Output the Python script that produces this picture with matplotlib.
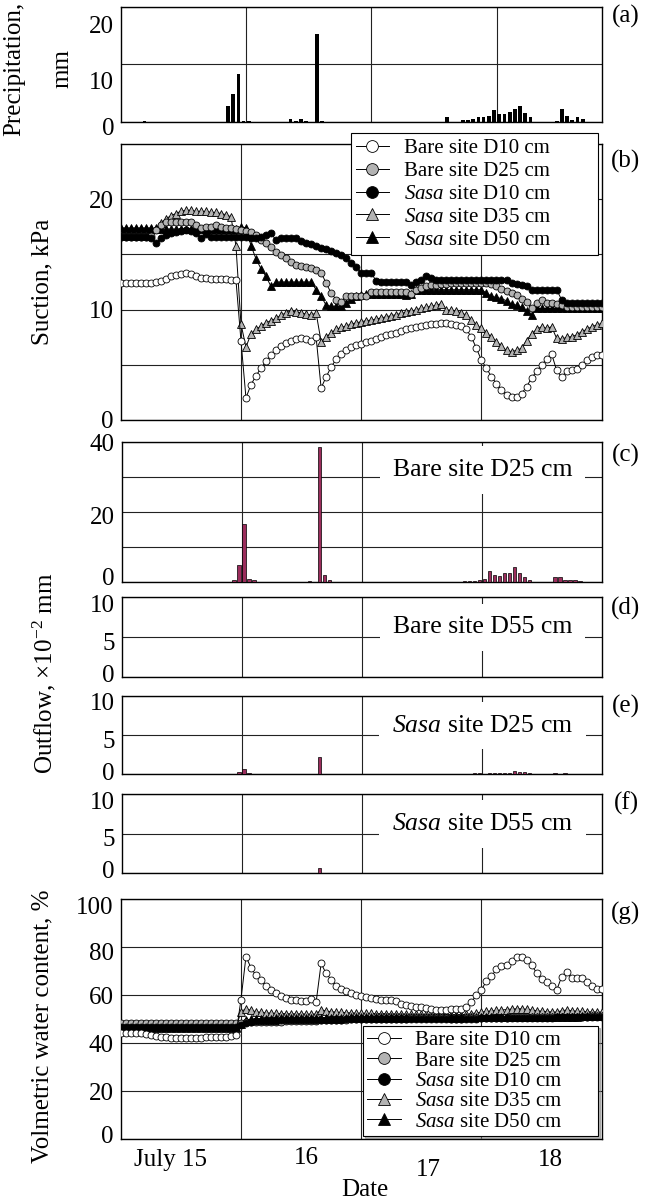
import numpy as np
import matplotlib
matplotlib.use('Agg')
import matplotlib.pyplot as plt
from matplotlib.transforms import ScaledTranslation

plt.rcParams['font.family'] = ['Liberation Serif', 'DejaVu Serif']
plt.rcParams['mathtext.fontset'] = 'custom'
plt.rcParams['mathtext.rm'] = 'Liberation Serif'
plt.rcParams['mathtext.it'] = 'Liberation Serif:italic'
plt.rcParams['mathtext.bf'] = 'Liberation Serif:bold'

# ---------------- data ----------------
# precipitation (hour of bar centre from July 15 00:00, mm)
precip_hours = [4.5, 20.5, 21.5, 22.5, 23.5, 24.5, 32.5, 33.5, 34.5, 35.5, 37.5, 38.5,
                62.5, 65.5, 66.5, 67.5, 68.5, 69.5, 70.5, 71.5, 72.5, 73.5, 74.5, 75.5,
                76.5, 77.5, 78.5, 83.5, 84.5, 85.5, 86.5, 87.5, 88.5]
precip_mm = [0.2, 2.7, 4.9, 8.3, 0.2, 0.1, 0.4, 0.2, 0.5, 0.2, 15.2, 0.1,
             0.9, 0.3, 0.3, 0.4, 0.8, 0.9, 1.0, 2.0, 1.4, 1.4, 1.7, 2.2,
             2.7, 1.5, 0.9, 0.1, 2.2, 1.0, 0.3, 0.9, 0.4]

# outflow (x10^-2 mm)
bare25_hours = [22.5, 23.5, 24.5, 25.5, 26.5, 37.5, 39.5, 40.5, 41.5, 68.5, 69.5, 70.5,
                71.5, 72.5, 73.5, 74.5, 75.5, 76.5, 77.5, 78.5, 79.5, 80.5, 81.5, 86.5,
                87.5, 88.5, 89.5, 90.5, 91.5]
bare25_out = [0.6, 4.9, 16.5, 0.9, 0.4, 0.3, 38.4, 2.0, 0.4, 0.1, 0.1, 0.2,
              0.6, 0.9, 3.1, 2.0, 1.7, 2.5, 2.6, 4.3, 2.5, 1.3, 0.6, 1.4,
              1.4, 0.5, 0.5, 0.5, 0.2]
bare55_hours = []
bare55_out = []
sasa25_hours = [23.5, 24.5, 25.5, 39.5, 70.5, 71.5, 73.5, 74.5, 75.5, 76.5, 77.5, 78.5,
                79.5, 80.5, 81.5, 86.5, 88.5]
sasa25_out = [0.3, 0.7, 0.1, 2.2, 0.1, 0.1, 0.1, 0.1, 0.1, 0.1, 0.15, 0.35,
              0.3, 0.2, 0.1, 0.1, 0.1]
sasa55_hours = [39.5]
sasa55_out = [0.6]

# hourly readings, hour 0..96 from July 15 00:00
hours = np.arange(97)

# suction, kPa
suc_bare10 = [12.4, 12.4, 12.4, 12.4, 12.4, 12.4, 12.4, 12.5, 12.6, 12.8, 13.0, 13.1, 13.2, 13.3,
              13.2, 13.0, 12.9, 12.9, 12.8, 12.8, 12.8, 12.8, 12.7, 12.7,
              7.2, 2.0, 3.2, 4.0, 4.7, 5.3, 5.9, 6.3, 6.7, 7.0, 7.2, 7.3, 7.4, 7.3, 7.2, 7.5,
              2.9, 3.9, 4.8, 5.5, 6.0, 6.3, 6.6, 6.8, 6.9, 7.1, 7.2,
              7.3, 7.5, 7.7, 7.8, 7.9, 8.1, 8.2, 8.3, 8.4, 8.5, 8.6, 8.7, 8.7, 8.8, 8.8, 8.7,
              8.6, 8.5, 8.2, 7.5, 6.5, 5.4, 4.7, 3.9, 3.3, 2.7, 2.3, 2.1, 2.1, 2.4, 3.0, 3.8,
              4.4, 5.0, 5.5, 6.0, 4.5, 3.9, 4.4, 4.5, 4.6, 5.0, 5.4, 5.7, 5.9, 5.9]
suc_bare25 = [16.6, 16.6, 16.6, 16.6, 16.6, 16.6, 16.7, 17.2, 17.65, 17.9, 17.95, 17.95, 17.95,
              17.95, 17.95, 17.65, 17.35, 17.5, 17.5, 17.65, 17.5, 17.35, 17.35, 17.3, 17.2,
              17.1, 17.05, 16.75, 16.3, 16.0, 15.7, 15.25, 14.95, 14.65, 14.35, 14.05, 13.95,
              13.9, 13.75, 13.6, 13.35, 12.4, 11.5, 10.9, 10.7, 11.2, 11.25, 11.25, 11.25,
              11.25, 11.6, 11.6, 11.55, 11.55, 11.55, 11.55, 11.55, 11.55, 11.4, 11.8, 12.0,
              12.1, 12.2, 12.2, 12.3, 12.3, 12.4, 12.4, 12.4, 12.4, 12.4, 12.4, 12.4, 12.4,
              12.3, 12.1, 11.9, 11.7, 11.5, 11.3, 11.0, 10.7, 10.1, 10.6, 10.9, 10.6, 10.6,
              10.5, 10.4, 10.2, 10.2, 10.2, 10.2, 10.2, 10.2, 10.2, 10.2]
suc_sasa10 = [16.6, 16.6, 16.6, 16.6, 16.6, 16.6, 16.5, 16.0, 16.5, 16.75, 16.9, 17.05, 17.15,
              17.2, 17.15, 16.9, 16.45, 16.85, 16.6, 16.6, 16.6, 16.6, 16.6, 16.6, 16.6,
              16.55, 16.5, 16.45, 16.6, 16.75, 16.9, 16.3, 16.45, 16.45, 16.45, 16.45, 16.2,
              16.05, 15.9, 15.75, 15.6, 15.5, 15.3, 15.1, 14.95, 14.65, 14.2, 13.9, 13.3,
              13.3, 13.3, 12.6, 12.5, 12.5, 12.5, 12.5, 12.5, 12.5, 12.2, 12.5, 12.7, 13.0,
              12.9, 12.7, 12.7, 12.7, 12.7, 12.7, 12.7, 12.7, 12.7, 12.7, 12.7, 12.7, 12.7,
              12.7, 12.7, 12.7, 12.4, 12.3, 12.2, 12.1, 11.8, 11.8, 11.8, 11.8, 11.8, 11.8,
              10.9, 10.6, 10.6, 10.6, 10.6, 10.6, 10.6, 10.6, 10.6]
suc_sasa35 = [17.3, 17.3, 17.3, 17.3, 17.3, 17.3, 17.3, 17.4, 17.8, 18.2, 18.5, 18.7, 18.9,
              19.0, 19.0, 18.9, 18.9, 18.9, 18.8, 18.8, 18.7, 18.6, 18.4, 15.8, 8.7, 6.6,
              7.8, 8.2, 8.5, 8.8, 9.0, 9.2, 9.5, 9.7, 9.9, 9.8, 9.7, 9.6, 9.5, 9.7, 7.1, 7.5,
              7.9, 8.2, 8.4, 8.5, 8.7, 8.8, 8.9, 9.0, 9.05, 9.15, 9.25, 9.35, 9.45, 9.55,
              9.65, 9.75, 9.85, 10.0, 10.1, 10.2, 10.3, 10.4, 10.55, 9.95, 9.95, 9.85, 9.7,
              9.5, 9.05, 8.6, 8.3, 7.9, 7.5, 7.1, 6.7, 6.3, 6.2, 6.3, 6.5, 7.2, 7.8, 8.2,
              8.45, 8.3, 8.45, 7.4, 7.3, 7.5, 7.55, 7.7, 8.0, 8.2, 8.45, 8.6, 8.75]
suc_sasa50 = [17.4, 17.4, 17.4, 17.4, 17.4, 17.4, 17.4, 17.3, 17.3, 17.3, 17.3, 17.3, 17.3,
              17.3, 17.3, 17.3, 17.3, 17.3, 17.3, 17.3, 17.3, 17.3, 17.3, 17.3, 17.5, 17.4,
              15.8, 14.6, 13.7, 13.0, 12.1, 12.5, 12.5, 12.5, 12.5, 12.5, 12.5, 12.5, 12.5,
              11.8, 11.2, 10.4, 10.3, 10.3, 10.3, 10.6, 11.0, 11.2, 11.3, 11.4, 11.4, 11.4,
              11.4, 11.4, 11.4, 11.4, 11.4, 11.3, 11.4, 11.8, 11.8, 11.8, 11.8, 11.8, 11.8,
              11.8, 11.8, 11.8, 11.8, 11.8, 11.8, 11.8, 11.8, 11.5, 11.2, 11.1, 11.0, 10.8,
              10.5, 10.4, 10.2, 9.9, 9.5, 10.1, 10.1, 10.1, 10.1, 10.1, 10.1, 10.1, 10.1,
              10.1, 10.1, 10.1, 10.1, 10.1, 10.1]

# volumetric water content, %
vwc_bare10 = [44.1, 44.1, 44.1, 44.1, 44.1, 43.8, 43.4, 43.0, 42.7, 42.4, 42.0, 42.0, 42.0,
              42.0, 42.0, 42.0, 42.2, 42.4, 42.7, 42.7, 42.7, 42.7, 43.0, 43.4,
              58.1, 76.0, 71.4, 68.2, 66.1, 64.0, 62.3, 60.9, 59.5, 58.8, 58.1, 57.8, 57.7,
              57.4, 58.4, 57.0, 73.2, 69.0, 66.5, 64.0, 62.6, 61.6, 60.9, 60.2, 59.5, 59.2,
              58.8, 58.5, 58.1, 57.8, 57.8, 57.4, 56.4, 56.0, 55.6, 55.0, 55.0, 54.8, 54.3,
              53.9, 53.6, 53.9, 54.3, 54.3, 54.2, 54.9, 57.0, 60.2, 62.3, 65.8, 67.9, 70.7,
              72.1, 72.5, 74.2, 75.8, 76.0, 74.6, 72.5, 69.3, 66.8, 65.4, 64.0, 62.0, 67.6,
              69.6, 67.2, 67.2, 67.2, 65.4, 63.7, 62.6, 62.6]
vwc_bare25 = [48.6, 48.6, 48.6, 48.6, 48.6, 48.6, 48.6, 48.6, 48.6, 48.6, 48.6, 48.6, 48.6,
              48.6, 48.6, 48.6, 48.6, 48.6, 48.6, 48.6, 48.6, 48.6, 48.6, 48.6,
              48.6, 48.7, 48.7, 48.8, 48.8, 48.9, 48.9, 49.0, 49.0, 49.1, 49.1, 49.2, 49.2,
              49.3, 49.3, 49.4, 49.5,
              49.6, 49.7, 49.7, 49.8, 49.8, 49.9, 49.9, 50.0, 50.0, 50.0, 50.1, 50.1, 50.1,
              50.2, 50.2, 50.2, 50.2, 50.3, 50.3, 50.3, 50.3, 50.3, 50.3, 50.3, 50.3, 50.2,
              50.2, 50.2, 50.3, 50.3, 50.4, 50.4, 50.5, 50.5, 50.6, 50.6, 50.6, 50.7, 50.7,
              50.7, 50.8, 50.8, 50.8, 50.9, 50.9, 50.9, 51.0, 51.0, 51.0, 51.0, 51.1, 51.1,
              51.1, 51.2, 51.2, 51.2]
vwc_sasa10 = [46.9, 46.9, 46.9, 46.9, 46.9, 46.9, 46.9, 46.9, 46.9, 46.9, 46.9, 46.9, 46.9,
              46.9, 46.9, 46.9, 46.9, 46.9, 46.9, 46.9, 46.9, 46.9, 46.9, 46.9, 47.6,
              48.5, 48.9, 49.1, 49.2, 49.3, 49.4, 49.4, 49.5, 49.5, 49.5, 49.6, 49.6, 49.6,
              49.7, 49.7, 49.7, 49.8, 49.8, 49.8, 49.8, 49.9, 49.9, 49.9, 49.9, 50.0, 50.0,
              50.0, 50.0, 50.0, 50.0, 50.0, 50.0, 50.0, 50.0, 50.0, 50.0, 50.0, 50.0, 50.0,
              50.0, 50.0, 50.0, 50.0, 50.1, 50.1, 50.2, 50.2, 50.3, 50.3, 50.3, 50.4, 50.4,
              50.4, 50.5, 50.5, 50.5, 50.5, 50.6, 50.6, 50.6, 50.6, 50.6, 50.7, 50.7, 50.7,
              50.7, 50.7, 50.8, 50.8, 50.8, 50.8, 50.8]
vwc_sasa35 = [46.5, 46.5, 46.5, 46.5, 46.5, 46.5, 46.5, 46.5, 46.5, 46.5, 46.5, 46.5, 46.5,
              46.5, 46.5, 46.5, 46.5, 46.5, 46.5, 46.5, 46.5, 46.5, 46.5, 46.5,
              53.0, 54.4, 53.6, 53.1, 52.8, 52.6, 52.5, 52.4, 52.3, 52.3, 52.2, 52.2, 52.2,
              52.1, 52.1, 52.1, 53.9, 53.4, 53.1, 52.9, 52.8, 52.7, 52.6, 52.5, 52.5, 52.4,
              52.4, 52.3, 52.3, 52.3, 52.2, 52.2, 52.2, 52.1, 52.1, 52.1, 52.0, 52.0, 52.0,
              52.0, 52.0, 51.9, 51.9, 51.9, 51.9, 52.0, 52.3, 52.6, 52.9, 53.2, 53.4, 53.6,
              53.8, 54.0, 54.2, 54.3, 54.3, 54.1, 53.8, 53.5, 53.3, 53.1, 53.0, 52.9, 53.5,
              53.8, 53.5, 53.3, 53.2, 53.1, 53.0, 53.0, 52.9]
vwc_sasa50 = [46.8, 46.8, 46.8, 46.8, 46.8, 46.8, 46.8, 46.8, 46.8, 46.8, 46.8, 46.8, 46.8,
              46.8, 46.8, 46.8, 46.8, 46.8, 46.8, 46.8, 46.8, 46.8, 46.8, 46.8, 48.0, 49.5,
              50.0, 50.1, 50.1, 50.2, 50.2, 50.3, 50.3, 50.3, 50.4, 50.4, 50.4, 50.5, 50.5,
              50.5, 50.5, 50.6, 50.6, 50.6, 50.6, 50.6, 50.7, 50.7, 50.7, 50.7, 50.7, 50.7,
              50.7, 50.8, 50.8, 50.8, 50.8, 50.8, 50.8, 50.8, 50.8, 50.8, 50.8, 50.8, 50.8,
              50.8, 50.8, 50.8, 50.8, 50.8, 50.8, 50.9, 50.9, 50.9, 50.9, 50.9, 50.9, 51.0,
              51.0, 51.0, 51.0, 51.0, 51.0, 51.0, 51.1, 51.1, 51.1, 51.1, 51.1, 51.1, 51.1,
              51.1, 51.2, 51.2, 51.2, 51.2, 51.2]

series_labels = ['Bare site D10 cm', 'Bare site D25 cm', r'$\it{Sasa}$ site D10 cm',
                 r'$\it{Sasa}$ site D35 cm', r'$\it{Sasa}$ site D50 cm']
date_ticks = [0.41, 1.547, 2.555, 3.57]
date_labels = ['July 15', '16', '17', '18']

# ---------------- figure ----------------
W, H = 660, 1202
fig = plt.figure(figsize=(W / 100, H / 100), dpi=100)
FS = 18
GRID = dict(color='#222222', lw=0.8)
BARC = '#9b2d5c'


def add_ax(x0, x1, ytop, ybot):
    return fig.add_axes([x0 / W, 1 - ybot / H, (x1 - x0) / W, (ybot - ytop) / H])


def style(ax, xmax, ymax):
    ax.set_xlim(0, xmax)
    ax.set_ylim(0, ymax)
    ax.set_axisbelow(True)
    for s in ax.spines.values():
        s.set_linewidth(1.0)
        s.set_color('black')
    ax.tick_params(length=0, labelsize=FS, pad=5)


def shift_labels(labels, dys):
    # positive dy moves a label down (pixels)
    for lab, dy in zip(labels, dys):
        lab.set_transform(lab.get_transform() +
                          ScaledTranslation(0, -dy / 100, fig.dpi_scale_trans))


# (a) precipitation
ax_a = add_ax(121, 601.7, 6.7, 121.7)
style(ax_a, 3.839, 20)
ax_a.bar(np.array(precip_hours) / 24, precip_mm, width=0.03, color='black', zorder=3)
ax_a.set_xticks([1, 2, 3])
ax_a.set_xticklabels([])
ax_a.set_yticks([0, 10, 20])
ax_a.grid(True, **GRID)

# (b) suction
ax_b = add_ax(120.7, 601.7, 144, 420)
style(ax_b, 4, 25)
ax_b.set_xticks([1, 2, 3])
ax_b.set_xticklabels([])
ax_b.set_yticks([0, 5, 10, 15, 20])
ax_b.set_yticklabels(['0', '', '10', '', '20'])
ax_b.grid(True, **GRID)

days = hours / 24
mk = dict(lw=0.7, color='black', mec='black', mew=0.6)
ms_c, ms_t = 5.0, 5.5


def draw_series(ax, data):
    b10, b25, s10, s35, s50 = data
    h = {}
    h[3] = ax.plot(days, s35, marker='^', ms=ms_t, mfc='#b3b3b3', zorder=3, **mk)[0]
    h[4] = ax.plot(days, s50, marker='^', ms=ms_t, mfc='black', zorder=3, **mk)[0]
    h[1] = ax.plot(days, b25, marker='o', ms=ms_c, mfc='#b3b3b3', zorder=3, **mk)[0]
    h[2] = ax.plot(days, s10, marker='o', ms=ms_c, mfc='black', zorder=3, **mk)[0]
    h[0] = ax.plot(days, b10, marker='o', ms=ms_c, mfc='white', zorder=3, **mk)[0]
    return [h[i] for i in range(5)]


hb = draw_series(ax_b, [suc_bare10, suc_bare25, suc_sasa10, suc_sasa35, suc_sasa50])
leg_b = ax_b.legend(hb, series_labels, loc='upper left', bbox_to_anchor=(0.478, 0.594, 0.515, 0.445),
                    mode='expand', fontsize=15, frameon=True, fancybox=False, edgecolor='black',
                    framealpha=1, borderpad=0.25, labelspacing=0.16, handlelength=1.6,
                    handletextpad=0.7, borderaxespad=0, markerscale=1.7)
leg_b.get_frame().set_linewidth(0.8)
leg_b.set_zorder(10)


# (c)-(f) outflow
def outflow_panel(ytop, ybot, ymax, yticks, ylabels, hrs, vals, text):
    ax = add_ax(121.5, 602.3, ytop, ybot)
    style(ax, 4, ymax)
    ax.set_xticks([1, 2, 3])
    ax.set_xticklabels([])
    ax.set_yticks(yticks)
    ax.set_yticklabels(ylabels)
    ax.grid(True, **GRID)
    if len(hrs):
        ax.bar(np.array(hrs) / 24, vals, width=0.03, color=BARC, edgecolor='black',
               linewidth=0.5, zorder=3)
    ax.text(0.751, 0.62 if ymax == 10 else 0.80, text, transform=ax.transAxes, ha='center',
            va='center', fontsize=18.5, zorder=4,
            bbox=dict(boxstyle='square,pad=0.5', fc='white', ec='none'))
    return ax


ax_c = outflow_panel(441.7, 581.7, 40, [0, 10, 20, 30, 40], ['0', '', '20', '', '40'],
                     bare25_hours, bare25_out, 'Bare site D25 cm')
ax_d = outflow_panel(597.3, 676.7, 10, [0, 5, 10], ['0', '5', '10'],
                     bare55_hours, bare55_out, 'Bare site D55 cm')
ax_e = outflow_panel(696, 774, 10, [0, 5, 10], ['0', '5', '10'],
                     sasa25_hours, sasa25_out, r'$\it{Sasa}$ site D25 cm')
ax_f = outflow_panel(794.3, 872.7, 10, [0, 5, 10], ['0', '5', '10'],
                     sasa55_hours, sasa55_out, r'$\it{Sasa}$ site D55 cm')

# (g) volumetric water content
ax_g = add_ax(120.7, 601.7, 899, 1139.3)
style(ax_g, 4, 100)
ax_g.set_yticks([0, 20, 40, 60, 80, 100])
ax_g.set_xticks([1, 2, 3], minor=True)
ax_g.set_xticks(date_ticks)
ax_g.set_xticklabels(date_labels)
ax_g.tick_params(which='both', length=0, labelsize=FS)
ax_g.tick_params(axis='x', pad=7)
ax_g.grid(True, axis='y', **GRID)
ax_g.grid(True, axis='x', which='minor', **GRID)
hg = draw_series(ax_g, [vwc_bare10, vwc_bare25, vwc_sasa10, vwc_sasa35, vwc_sasa50])
leg_g = ax_g.legend(hg, series_labels, loc='lower left', bbox_to_anchor=(0.504, 0.014, 0.489, 0.452),
                    mode='expand', fontsize=15, frameon=True, fancybox=False, edgecolor='black',
                    framealpha=1, borderpad=0.2, labelspacing=0.04, handlelength=1.6,
                    handletextpad=0.7, borderaxespad=0, markerscale=1.7,
                    shadow={'ox': 1.5, 'oy': -1.5, 'shade': 0.55})
leg_g.get_frame().set_linewidth(0.8)
leg_g.set_zorder(10)

# tick-label placement as in the original figure
shift_labels(ax_a.get_yticklabels(), [5, 16, 18])
shift_labels(ax_c.get_yticklabels(), [-5, 0, 4, 0, 1])
for axo in (ax_d, ax_e, ax_f):
    shift_labels(axo.get_yticklabels(), [-3, 4, 6])
shift_labels(ax_g.get_yticklabels(), [-5, 0, 0, 0, 4, 7])
shift_labels(ax_g.get_xticklabels(), [0, -2, 10, 0])

# axis titles
fig.text(14 / W, 1 - 69 / H, 'Precipitation,', rotation=90, ha='center', va='center', fontsize=FS)
fig.text(62 / W, 1 - 69 / H, 'mm', rotation=90, ha='center', va='center', fontsize=FS)
fig.text(42 / W, 1 - 282 / H, 'Suction, kPa', rotation=90, ha='center', va='center', fontsize=FS)
fig.text(44 / W, 1 - 673 / H, r'Outflow, $\times$10$^{-2}$ mm', rotation=90, ha='center',
         va='center', fontsize=FS)
fig.text(42 / W, 1 - 1026 / H, 'Volmetric water content, %', rotation=90, ha='center',
         va='center', fontsize=FS)
fig.text(365 / W, 1 - 1190 / H, 'Date', ha='center', va='center', fontsize=FS)

for lab, y in [('(a)', 16.7), ('(b)', 161.7), ('(c)', 455), ('(d)', 608.3), ('(e)', 706.7),
               ('(f)', 803.3), ('(g)', 913.3)]:
    fig.text(626 / W, 1 - y / H, lab, ha='center', va='center', fontsize=FS)

fig.savefig('out.png', dpi=100)
